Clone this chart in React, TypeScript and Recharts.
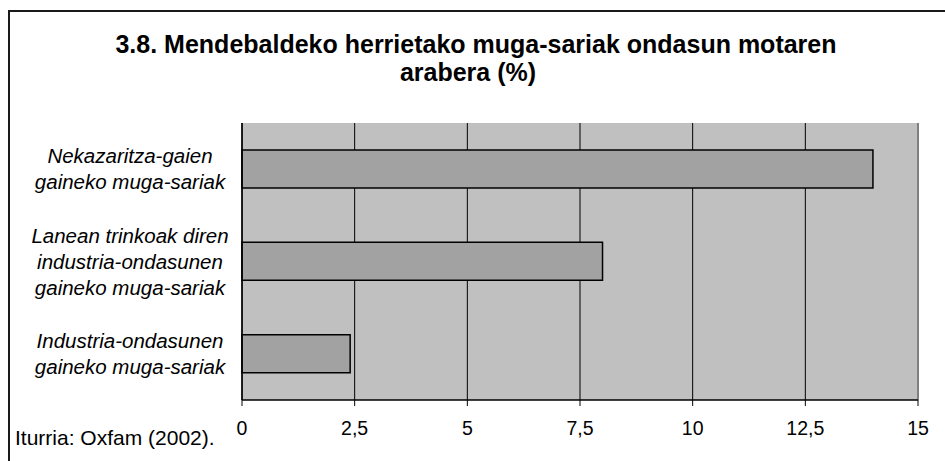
import React from "react";
import { BarChart, Bar, XAxis, YAxis, CartesianGrid, ReferenceLine } from "recharts";

const categories = [
  "Nekazaritza-gaien\ngaineko muga-sariak",
  "Lanean trinkoak diren\nindustria-ondasunen\ngaineko muga-sariak",
  "Industria-ondasunen\ngaineko muga-sariak",
];
const values = [14, 8, 2.4];
const xTicks = [0, 2.5, 5, 7.5, 10, 12.5, 15];
const edgeTicks = [0, 1, 2, 3];
const titleLines = ["3.8. Mendebaldeko herrietako muga-sariak ondasun motaren", "arabera (%)"];
const sourceText = "Iturria: Oxfam (2002).";

const data = categories.map((c, i) => ({ name: c, value: values[i] }));

const FONT = "'Liberation Sans', Arial, sans-serif";

const CategoryTick = (props: any) => {
  const { x, y, payload } = props;
  const lines: string[] = String(payload.value).split("\n");
  const lh = 26;
  const first = y + 7 - ((lines.length - 1) * lh) / 2;
  return (
    <text
      x={x - 112}
      y={first}
      textAnchor="middle"
      fontFamily={FONT}
      fontSize={20.5}
      fontStyle="italic"
      fill="#000"
    >
      {lines.map((l, i) => (
        <tspan key={i} x={x - 112} y={first + i * lh}>
          {l}
        </tspan>
      ))}
    </text>
  );
};

export default function App() {
  return (
    <div style={{ position: "absolute", left: 0, top: 0, width: 945, height: 461, background: "#fff" }}>
      <div
        style={{
          position: "absolute",
          left: 8,
          top: 10,
          width: 960,
          height: 470,
          borderLeft: "2px solid #1a1a1a",
          borderTop: "2px solid #1a1a1a",
        }}
      />
      <BarChart
        width={945}
        height={461}
        data={data}
        layout="vertical"
        margin={{ top: 123, right: 27, bottom: 0, left: 0 }}
        style={{ position: "absolute", left: 0, top: 0 }}
      >
        <CartesianGrid
          horizontal={false}
          stroke="#000"
          strokeWidth={1}
          fill="#C0C0C0"
          fillOpacity={1}
          yAxisId="cat"
        />
        <XAxis
          type="number"
          domain={[0, 15]}
          ticks={xTicks}
          interval={0}
          tickFormatter={(v: number) => String(v).replace(".", ",")}
          tickSize={6}
          tickMargin={15}
          height={61}
          axisLine={{ stroke: "#000", strokeWidth: 1.5 }}
          tickLine={{ stroke: "#000" }}
          tick={{ fontSize: 19.5, fill: "#000", fontFamily: FONT }}
        />
        <YAxis
          yAxisId="edge"
          type="number"
          domain={[0, 3]}
          ticks={edgeTicks}
          interval={0}
          width={0}
          tickSize={6}
          tickFormatter={() => ""}
          axisLine={false}
          tickLine={{ stroke: "#000" }}
        />
        <YAxis
          yAxisId="cat"
          type="category"
          dataKey="name"
          width={242}
          tickLine={false}
          tickSize={0}
          tickMargin={0}
          interval={0}
          axisLine={{ stroke: "#000", strokeWidth: 1.5 }}
          tick={<CategoryTick />}
        />
        <ReferenceLine x={15} yAxisId="cat" stroke="#808080" strokeWidth={2} />
        <ReferenceLine y={3} yAxisId="edge" stroke="#9a9a9a" strokeWidth={1.5} />
        <Bar
          dataKey="value"
          yAxisId="cat"
          fill="#A2A2A2"
          stroke="#000"
          strokeWidth={1.5}
          barSize={38}
          isAnimationActive={false}
        />
      </BarChart>
      <svg
        width={945}
        height={461}
        style={{ position: "absolute", left: 0, top: 0, pointerEvents: "none" }}
      >
        <text x={476} y={53} textAnchor="middle" fontFamily={FONT} fontWeight="bold" fontSize={25} fill="#000">
          {titleLines[0]}
        </text>
        <text x={468} y={81} textAnchor="middle" fontFamily={FONT} fontWeight="bold" fontSize={25} fill="#000">
          {titleLines[1]}
        </text>
        <text x={15} y={445} fontFamily={FONT} fontSize={21} fill="#000">
          {sourceText}
        </text>
      </svg>
    </div>
  );
}
